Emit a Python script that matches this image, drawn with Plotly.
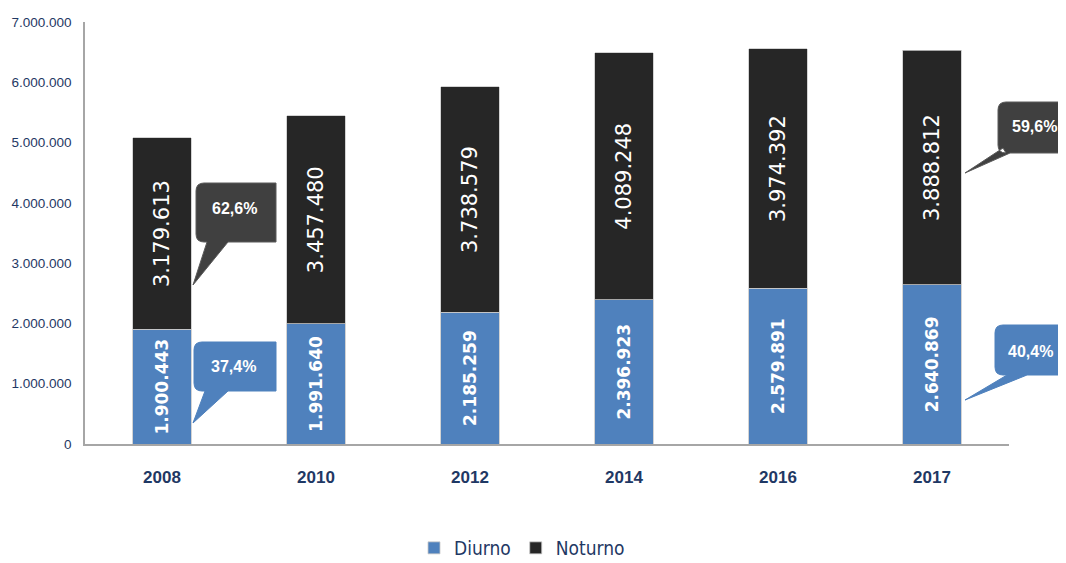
import plotly.graph_objects as go

anos = ['2008', '2010', '2012', '2014', '2016', '2017']
diurno = [1900443, 1991640, 2185259, 2396923, 2579891, 2640869]
noturno = [3179613, 3457480, 3738579, 4089248, 3974392, 3888812]
diurno_txt = ['1.900.443', '1.991.640', '2.185.259', '2.396.923', '2.579.891', '2.640.869']
noturno_txt = ['3.179.613', '3.457.480', '3.738.579', '4.089.248', '3.974.392', '3.888.812']
y_ticks = [0, 1000000, 2000000, 3000000, 4000000, 5000000, 6000000, 7000000]
y_labels = ['0', '1.000.000', '2.000.000', '3.000.000', '4.000.000', '5.000.000', '6.000.000', '7.000.000']

AZUL = '#4F81BD'
PRETO = '#262626'
NAVY = '#1F3864'

# the page body has an 8px margin, so the figure is made 8px smaller
OFF = 8
FW, FH = 1066 - OFF, 563 - OFF
L, R, T, B = 85 - OFF, 57, 22 - OFF, 119
W = FW - L - R
H = FH - T - B


# page pixel -> paper coordinates (for the callouts)
def px(x):
    return (x - OFF - L) / W


def py(y):
    return (FH - B - (y - OFF)) / H


fig = go.Figure()
fig.add_trace(go.Bar(x=anos, y=diurno, name='Diurno', marker_color=AZUL,
                     marker_line=dict(color='#C8C8C8', width=0.8),
                     text=diurno_txt, textposition='inside', textangle=-90,
                     insidetextanchor='middle', constraintext='none',
                     textfont=dict(family='DejaVu Sans', size=17, color='white', weight='bold')))
fig.add_trace(go.Bar(x=anos, y=noturno, name='Noturno', marker_color=PRETO,
                     marker_line=dict(color='#C8C8C8', width=0.8),
                     text=noturno_txt, textposition='inside', textangle=-90,
                     insidetextanchor='middle', constraintext='none',
                     textfont=dict(family='DejaVu Sans', size=21, color='white')))


def balao(x0, y0, x1, y1, b0, b1, tip, cor, borda, texto, tx, ty):
    # rounded box with a wedge pointer, all in page pixels
    r = 8
    path = (f"M {px(x0 + r)},{py(y0)} L {px(x1)},{py(y0)} "
            f"L {px(x1)},{py(y1)} "
            f"L {px(b1[0])},{py(b1[1])} L {px(tip[0])},{py(tip[1])} L {px(b0[0])},{py(b0[1])} "
            f"L {px(x0 + r)},{py(y1)} Q {px(x0)},{py(y1)} {px(x0)},{py(y1 - r)} "
            f"L {px(x0)},{py(y0 + r)} Q {px(x0)},{py(y0)} {px(x0 + r)},{py(y0)} Z")
    fig.add_shape(type='path', path=path, xref='paper', yref='paper',
                  fillcolor=cor, line=dict(color=borda, width=1), layer='above')
    fig.add_annotation(x=px(tx), y=py(ty), xref='paper', yref='paper',
                       xanchor='center', yanchor='middle',
                       text=texto, showarrow=False,
                       font=dict(family='Liberation Sans, Arial, sans-serif',
                                 size=16, color='white', weight='bold'))


balao(196, 183, 276, 242, (207, 242), (228, 242), (193, 285), '#404040', '#5a5a5a', '62,6%', 234, 208)
balao(194, 342, 276, 391, (205, 391), (228, 391), (193, 423), AZUL, AZUL, '37,4%', 233, 366)
balao(998, 102, 1075, 153, (1003, 148), (1010, 153), (965, 173), '#404040', '#5a5a5a', '59,6%', 1034, 127)
balao(995, 325, 1075, 375, (1007, 375), (1027, 375), (965, 400), AZUL, AZUL, '40,4%', 1031, 351)

fig.update_layout(
    barmode='stack', bargap=0.623,
    width=FW, height=FH,
    margin=dict(l=L, r=R, t=T, b=B, autoexpand=False),
    plot_bgcolor='white', paper_bgcolor='white',
    showlegend=True,
    legend=dict(orientation='h', x=px(522), xanchor='center', y=py(548), yanchor='middle',
                bgcolor='rgba(0,0,0,0)',
                font=dict(family='DejaVu Sans Condensed, DejaVu Sans', size=19, color=NAVY),
                itemwidth=30, traceorder='normal'),
    xaxis=dict(showline=True, linecolor='#A6A6A6', linewidth=2, ticks='', automargin=False,
               tickfont=dict(family='Liberation Sans, Arial, sans-serif',
                             size=17, color=NAVY, weight='bold'),
               ticklabelstandoff=17),
    yaxis=dict(range=[0, 7000000], tickvals=y_ticks, ticktext=y_labels, automargin=False,
               showline=True, linecolor='#A6A6A6', linewidth=1.5, showgrid=False,
               zeroline=False, ticks='',
               tickfont=dict(family='Liberation Sans, Arial, sans-serif',
                             size=13.5, color=NAVY),
               ticklabelstandoff=9),
)

fig.write_html('out.html')
